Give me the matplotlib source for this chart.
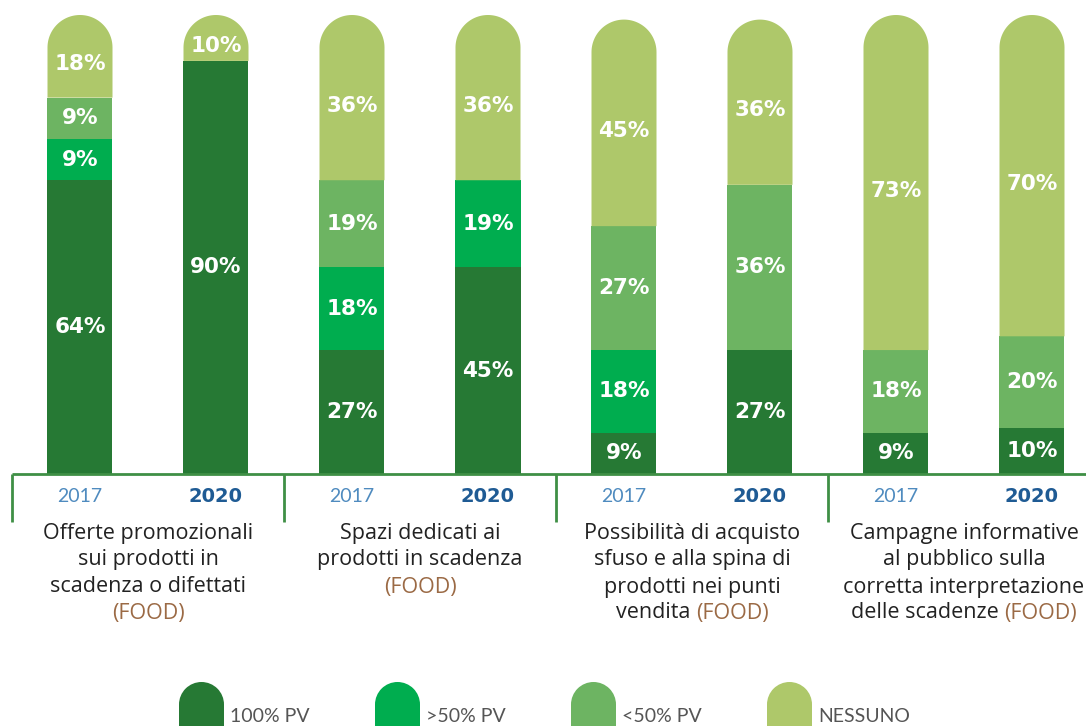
import numpy as np
import matplotlib
matplotlib.use('Agg')
import matplotlib.pyplot as plt
from matplotlib.patches import Rectangle, Polygon, Circle

# share of points of sale per initiative, 2017 vs 2020
years = ['2017', '2020'] * 4
groups = [
    [('Offerte promozionali', None), ('sui prodotti in', None), ('scadenza o difettati', None), ('(FOOD)', 'food')],
    [('Spazi dedicati ai', None), ('prodotti in scadenza', None), ('(FOOD)', 'food')],
    [('Possibilità di acquisto', None), ('sfuso e alla spina di', None), ('prodotti nei punti', None),
     ('vendita ', None, '(FOOD)')],
    [('Campagne informative', None), ('al pubblico sulla', None), ('corretta interpretazione', None),
     ('delle scadenze ', None, '(FOOD)')],
]
pv_100 = [64, 90, 27, 45, 9, 27, 9, 10]
pv_over50 = [9, 0, 18, 19, 18, 0, 0, 0]
pv_under50 = [9, 0, 19, 0, 27, 36, 18, 20]
nessuno = [18, 10, 36, 36, 45, 36, 73, 70]
series = [pv_100, pv_over50, pv_under50, nessuno]
series_names = ['100% PV', '>50% PV', '<50% PV', 'NESSUNO']
colors = ['#267934', '#00ad4f', '#6db462', '#aec86a']

W, H = 1086, 726
fig = plt.figure(figsize=(W / 100, H / 100), dpi=100)
base_px, top_px = 474, 15
ax = fig.add_axes([0, (H - base_px) / H, 1, (base_px - top_px) / H])
ax.set_xlim(-80 / 136, (W - 80) / 136)
ax.set_ylim(0, 100)
ax.axis('off')

bw = 65 / 136
r_px = bw * 136 / 2
r_y = r_px * 100 / (base_px - top_px)
x = np.arange(len(years))
t = np.linspace(0, np.pi, 60)

for i in x:
    vals = [s[i] for s in series]
    last = max(k for k, v in enumerate(vals) if v > 0)
    bottom = 0
    for k, v in enumerate(vals):
        if v == 0:
            continue
        top = bottom + v
        if k == last:
            # top segment ends in a half circle
            arc = np.column_stack([i + bw / 2 * np.cos(t), top - r_y + r_y * np.sin(t)])
            pts = np.vstack([[i + bw / 2, bottom], arc, [i - bw / 2, bottom]])
            ax.add_patch(Polygon(pts, closed=True, color=colors[k], lw=0))
            ty = (bottom + top - r_y / 2) / 2
        else:
            ax.add_patch(Rectangle((i - bw / 2, bottom), bw, v, color=colors[k], lw=0))
            ty = (bottom + top) / 2
        ax.text(i, ty, f'{v}%', ha='center', va='center', color='white',
                fontsize=15.5, fontweight='bold', family='DejaVu Sans')
        bottom = top

# overlay in pixel coordinates for axis, labels and legend
ov = fig.add_axes([0, 0, 1, 1])
ov.set_xlim(0, W)
ov.set_ylim(H, 0)
ov.axis('off')

line_c = '#3f8f45'
ov.plot([12, W], [base_px, base_px], color=line_c, lw=2, solid_capstyle='butt')
for g in range(4):
    sx = ax.transData.transform((2 * g - 0.5, 0))[0]
    ov.plot([sx, sx], [base_px, 522], color=line_c, lw=2, solid_capstyle='butt')

for i, yr in enumerate(years):
    px = ax.transData.transform((i, 0))[0]
    if yr == '2020':
        ov.text(px, 496, yr, ha='center', va='center', fontsize=14, fontweight='bold',
                color='#1f5b94', family='DejaVu Sans')
    else:
        ov.text(px, 496, yr, ha='center', va='center', fontsize=14,
                color='#4f8bbf', family='Lato')

fig.canvas.draw()
rend = fig.canvas.get_renderer()
food_c = '#9b6a45'
text_kw = dict(fontsize=15.5, family='Open Sans', va='center')
line_y = [534, 560, 587, 613]
for g, lines in enumerate(groups):
    cx = ax.transData.transform((2 * g + 0.5, 0))[0]
    for j, ln in enumerate(lines):
        if len(ln) == 3:
            t1 = ov.text(0, line_y[j], ln[0], ha='left', color='#222222', **text_kw)
            t2 = ov.text(0, line_y[j], ln[2], ha='left', color=food_c, **text_kw)
            w1 = t1.get_window_extent(rend).width
            w2 = t2.get_window_extent(rend).width
            x0 = cx - (w1 + w2) / 2
            t1.set_x(x0)
            t2.set_x(x0 + w1)
        else:
            c = food_c if ln[1] == 'food' else '#222222'
            ov.text(cx, line_y[j], ln[0], ha='center', color=c, **text_kw)

# legend with rounded-top markers
leg_x = [179, 375, 571, 767]
for k, name in enumerate(series_names):
    lx = leg_x[k]
    ov.add_patch(Rectangle((lx, 704.5), 45, 30, color=colors[k], lw=0))
    ov.add_patch(Circle((lx + 22.5, 704.5), 22.5, color=colors[k], lw=0))
    ov.text(lx + 51, 722, name, ha='left', va='baseline', fontsize=14,
            color='#555555', family='Lato')

fig.savefig('out.png', dpi=100)
